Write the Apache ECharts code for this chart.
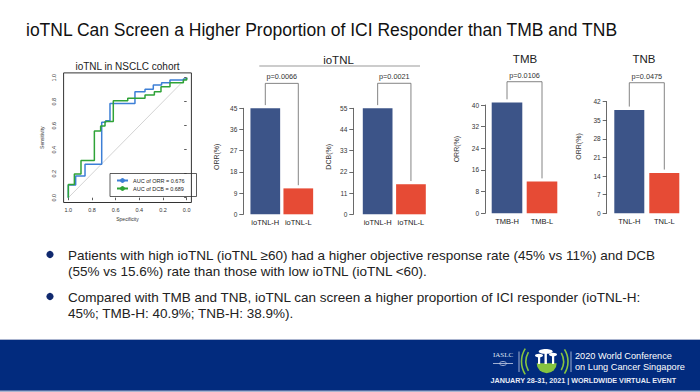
<!DOCTYPE html>
<html><head><meta charset="utf-8">
<script src="https://cdn.jsdelivr.net/npm/echarts@6/dist/echarts.min.js"></script>
<style>html,body{margin:0;padding:0;background:#fff}#c{width:700px;height:392px}</style>
</head><body><div id="c"></div>
<script>
// ---------- DATA ----------
const rocTicks = [0, 0.2, 0.4, 0.6, 0.8, 1.0];
const rocOrrSpec = [1, 1, 0.938, 0.859, 0.718, 0.684, 0.648, 0.437, 0.352, 0.282, 0.212, 0.141, 0.028, 0];
const rocOrrSens = [0, 0.106, 0.181, 0.278, 0.628, 0.642, 0.786, 0.883, 0.903, 0.939, 0.958, 0.981, 0.99, 1];
const rocDcbSpec = [1, 1, 0.949, 0.893, 0.78, 0.727, 0.69, 0.62, 0.498, 0.352, 0.273, 0.217, 0.141, 0.028, 0];
const rocDcbSens = [0, 0.111, 0.198, 0.309, 0.556, 0.598, 0.634, 0.808, 0.828, 0.856, 0.883, 0.925, 0.958, 0.98, 1];
const rocNames = ['AUC of ORR = 0.676', 'AUC of DCB = 0.689'];

const iotnlCats = ['ioTNL-H', 'ioTNL-L'];
const iotnlOrr = [45, 11];
const iotnlDcb = [55, 15.6];
const tmbCats = ['TMB-H', 'TMB-L'];
const tmbOrr = [40.9, 11.7];
const tnbCats = ['TNL-H', 'TNL-L'];
const tnbOrr = [38.9, 15.2];
const pValues = ['p=0.0066', 'p=0.0021', 'p=0.0106', 'p=0.0475'];
const axisMax = [45, 55, 40, 42];
const axisStep = [9, 11, 8, 7];
const axisNames = ['ORR(%)', 'DCB(%)', 'ORR(%)', 'ORR(%)'];

// ---------- LAYOUT / STYLE ----------
const FONT = 'Liberation Sans, Arial, sans-serif';
const BLUE = '#3C5488', RED = '#E64B35';
const panels = [
  {cats: iotnlCats, vals: iotnlOrr, left: 248.8, top: 108.3, width: 66, height: 106, off: 5.5, gap: 23.5, bw: 29.7, bracket: 1.235, shift: 9},
  {cats: iotnlCats, vals: iotnlDcb, left: 361, top: 108.3, width: 66.6, height: 106, off: 7.7, gap: 21.5, bw: 29.7, bracket: 1.236, shift: 9},
  {cats: tmbCats, vals: tmbOrr, left: 489.5, top: 105, width: 70, height: 108.3, off: 4.5, gap: 24.8, bw: 30.6, bracket: 1.215, shift: 20},
  {cats: tnbCats, vals: tnbOrr, left: 611.8, top: 101.7, width: 70, height: 111.6, off: 5.1, gap: 24.9, bw: 30, bracket: 1.17, shift: 22}
];

const grids = [{left: 63.6, top: 72.9, width: 127.8, height: 129.6, show: true, borderColor: '#333', borderWidth: 1}];
const xAxes = [{
  gridIndex: 0, type: 'value', min: -0.04, max: 1.04, inverse: true,
  axisLine: {show: false}, splitLine: {show: false},
  axisTick: {show: true, customValues: rocTicks, length: 2.5, lineStyle: {color: '#333', width: 0.8}},
  axisLabel: {customValues: rocTicks, formatter: v => v.toFixed(1), fontSize: 5.5, color: '#333', margin: 4},
  name: 'Specificity', nameLocation: 'middle', nameGap: 14, nameTextStyle: {fontSize: 5, color: '#333'}
}];
const yAxes = [{
  gridIndex: 0, type: 'value', min: -0.04, max: 1.04,
  axisLine: {show: false}, splitLine: {show: false},
  axisTick: {show: true, customValues: rocTicks, length: 2.5, lineStyle: {color: '#333', width: 0.8}},
  axisLabel: {customValues: rocTicks, formatter: v => v.toFixed(1), fontSize: 5.5, color: '#333', margin: 7, rotate: 90},
  name: 'Sensitivity', nameLocation: 'middle', nameGap: 19, nameTextStyle: {fontSize: 5, color: '#333'}
}];
const series = [
  {type: 'line', xAxisIndex: 0, yAxisIndex: 0, data: [[1, 0], [0, 1]], symbol: 'none', silent: true,
   lineStyle: {color: '#c8c8c8', width: 0.8}},
  {name: rocNames[0], type: 'line', xAxisIndex: 0, yAxisIndex: 0, step: 'end', symbol: 'none',
   data: rocOrrSpec.map((s, i) => [s, rocOrrSens[i]]), lineStyle: {color: '#3d7fd6', width: 1.5}, itemStyle: {color: '#3d7fd6'}},
  {name: rocNames[1], type: 'line', xAxisIndex: 0, yAxisIndex: 0, step: 'end', symbol: 'none',
   data: rocDcbSpec.map((s, i) => [s, rocDcbSens[i]]), lineStyle: {color: '#2fa337', width: 1.5}, itemStyle: {color: '#2fa337'}}
];

panels.forEach((p, k) => {
  const g = k + 1;
  grids.push({left: p.left, top: p.top, width: p.width, height: p.height});
  xAxes.push({gridIndex: g, type: 'category', data: p.cats, axisLine: {show: false}, axisTick: {show: false},
    axisLabel: {fontSize: 7.5, color: '#222', margin: 4, interval: 0}});
  yAxes.push({gridIndex: g, type: 'value', min: 0, max: axisMax[k], interval: axisStep[k], offset: p.off,
    splitLine: {show: false},
    axisLine: {show: true, lineStyle: {color: '#444', width: 0.8}},
    axisTick: {show: true, length: 4, lineStyle: {color: '#444', width: 0.8}},
    axisLabel: {fontSize: 6.5, color: '#333', margin: 6},
    name: axisNames[k], nameLocation: 'middle', nameGap: p.gap,
    nameTextStyle: {fontSize: 7, color: '#333', padding: [0, 0, 0, p.shift]}});
  series.push({type: 'bar', xAxisIndex: g, yAxisIndex: g, barWidth: p.bw, clip: false,
    data: p.vals.map((v, i) => ({value: v, itemStyle: {color: i === 0 ? BLUE : RED}}))});
  const lvl = axisMax[k] * p.bracket, gapv = axisMax[k] * 0.03;
  series.push({type: 'line', xAxisIndex: g, yAxisIndex: g, symbol: 'none', clip: false, silent: true,
    lineStyle: {color: '#666', width: 0.8},
    data: [[0, p.vals[0] + gapv], [0, lvl], [1, lvl], [1, p.vals[1] + gapv]]});
});

const txt = (x, y, text, size, opt = {}) => ({type: 'text', x, y, silent: true,
  style: Object.assign({text, fill: '#222', font: `${opt.weight || 'normal'} ${size}px ${opt.family || FONT}`,
    textAlign: opt.align || 'left', textVerticalAlign: 'middle'}, opt.style || {})});

const graphics = [
  txt(26, 30, 'ioTNL Can Screen a Higher Proportion of ICI Responder than TMB and TNB', 17.5, {style: {fill: '#111'}}),
  txt(127.5, 66.5, 'ioTNL in NSCLC cohort', 10, {align: 'center'}),
  txt(338.5, 59.5, 'ioTNL', 11.5, {align: 'center'}),
  {type: 'line', shape: {x1: 259.3, y1: 66, x2: 420, y2: 66}, style: {stroke: '#999', lineWidth: 1}, silent: true},
  txt(525, 59.3, 'TMB', 11.5, {align: 'center'}),
  txt(644, 59.3, 'TNB', 11.5, {align: 'center'}),
  {type: 'circle', shape: {cx: 50, cy: 254.5, r: 3.6}, style: {fill: '#10296e'}},
  txt(68, 255, 'Patients with high ioTNL (ioTNL \u226560) had a higher objective response rate (45% vs 11%) and DCB', 13.5),
  txt(68, 271, '(55% vs 15.6%) rate than those with low ioTNL (ioTNL <60).', 13.5),
  {type: 'circle', shape: {cx: 50, cy: 296.5, r: 3.6}, style: {fill: '#10296e'}},
  txt(68, 297, 'Compared with TMB and TNB, ioTNL can screen a higher proportion of ICI responder (ioTNL-H:', 13.5),
  txt(68, 313, '45%; TMB-H: 40.9%; TNB-H: 38.9%).', 13.5),
  // footer
  {type: 'rect', shape: {x: 0, y: 339, width: 700, height: 53}, style: {fill: '#aab4cf'}, silent: true},
  {type: 'rect', shape: {x: 0, y: 340, width: 700, height: 50.5}, style: {fill: '#022b7e'}, silent: true},
  txt(503, 355, 'IASLC', 7, {align: 'center', family: 'Liberation Serif, serif', style: {fill: '#dfe6f5'}}),
  {type: 'line', shape: {x1: 493, y1: 363.5, x2: 513, y2: 363.5}, style: {stroke: '#c8d0e6', lineWidth: 0.8}, silent: true},
  {type: 'ellipse', shape: {cx: 503, cy: 363.5, rx: 3.5, ry: 2}, style: {fill: 'none', stroke: '#c8d0e6', lineWidth: 0.8}, silent: true},
  {type: 'line', shape: {x1: 519, y1: 351.5, x2: 519, y2: 372}, style: {stroke: '#c8d0e6', lineWidth: 0.8}, silent: true},
  {type: 'line', shape: {x1: 571, y1: 351.5, x2: 571, y2: 372}, style: {stroke: '#c8d0e6', lineWidth: 0.8}, silent: true},
  {type: 'arc', shape: {cx: 545.5, cy: 361.5, r: 24, startAngle: Math.PI * 0.82, endAngle: Math.PI * 1.18}, style: {stroke: '#86c440', lineWidth: 1.6, fill: 'none'}, silent: true},
  {type: 'arc', shape: {cx: 545.5, cy: 361.5, r: 19.5, startAngle: Math.PI * 0.84, endAngle: Math.PI * 1.16}, style: {stroke: '#86c440', lineWidth: 1.6, fill: 'none'}, silent: true},
  {type: 'arc', shape: {cx: 545.5, cy: 361.5, r: 22.5, startAngle: -Math.PI * 0.18, endAngle: Math.PI * 0.18}, style: {stroke: '#86c440', lineWidth: 1.6, fill: 'none'}, silent: true},
  {type: 'arc', shape: {cx: 545.5, cy: 361.5, r: 18, startAngle: -Math.PI * 0.16, endAngle: Math.PI * 0.16}, style: {stroke: '#86c440', lineWidth: 1.6, fill: 'none'}, silent: true},
  {type: 'sector', shape: {cx: 546.7, cy: 363.3, r: 10, r0: 0, startAngle: 0, endAngle: Math.PI}, style: {fill: '#86c440'}, silent: true},
  {type: 'rect', shape: {x: 538, y: 356, width: 2.2, height: 8}, style: {fill: '#fff'}, silent: true},
  {type: 'rect', shape: {x: 544.5, y: 352, width: 2.4, height: 12}, style: {fill: '#fff'}, silent: true},
  {type: 'rect', shape: {x: 552, y: 355, width: 2.2, height: 9}, style: {fill: '#fff'}, silent: true},
  {type: 'ellipse', shape: {cx: 545.7, cy: 351.5, rx: 7, ry: 2.4}, style: {fill: '#fff'}, silent: true},
  {type: 'ellipse', shape: {cx: 539, cy: 355.5, rx: 4, ry: 1.8}, style: {fill: '#fff'}, silent: true},
  {type: 'ellipse', shape: {cx: 553, cy: 354.5, rx: 4, ry: 1.8}, style: {fill: '#fff'}, silent: true},
  txt(575, 356, '2020 World Conference', 9.2, {style: {fill: '#fff'}}),
  txt(575, 366.8, 'on Lung Cancer Singapore', 9.2, {style: {fill: '#fff'}}),
  txt(490.5, 380, 'JANUARY 28-31, 2021 | WORLDWIDE VIRTUAL EVENT', 7.2, {weight: 'bold', style: {fill: '#e8ecf6'}})
];

const chart = echarts.init(document.getElementById('c'), null, {renderer: 'svg'});
chart.setOption({
  animation: false,
  textStyle: {fontFamily: FONT},
  grid: grids, xAxis: xAxes, yAxis: yAxes, series,
  legend: {data: rocNames, orient: 'vertical', left: 110, top: 173.5, width: 82,
    padding: [4, 12, 5, 6], itemGap: 2, itemWidth: 11, itemHeight: 6,
    borderColor: '#333', borderWidth: 0.8, textStyle: {fontSize: 5.5, color: '#222'}, selectedMode: false},
  graphic: graphics
});

// p-value labels centred over each bracket
const pg = panels.map((p, k) => {
  const a = chart.convertToPixel({gridIndex: k + 1}, [0, axisMax[k] * p.bracket]);
  const b = chart.convertToPixel({gridIndex: k + 1}, [1, axisMax[k] * p.bracket]);
  return txt((a[0] + b[0]) / 2, a[1] - 6.5, pValues[k], 7.3, {align: 'center', style: {fill: '#333'}});
});
chart.setOption({graphic: graphics.concat(pg)});
</script></body></html>
